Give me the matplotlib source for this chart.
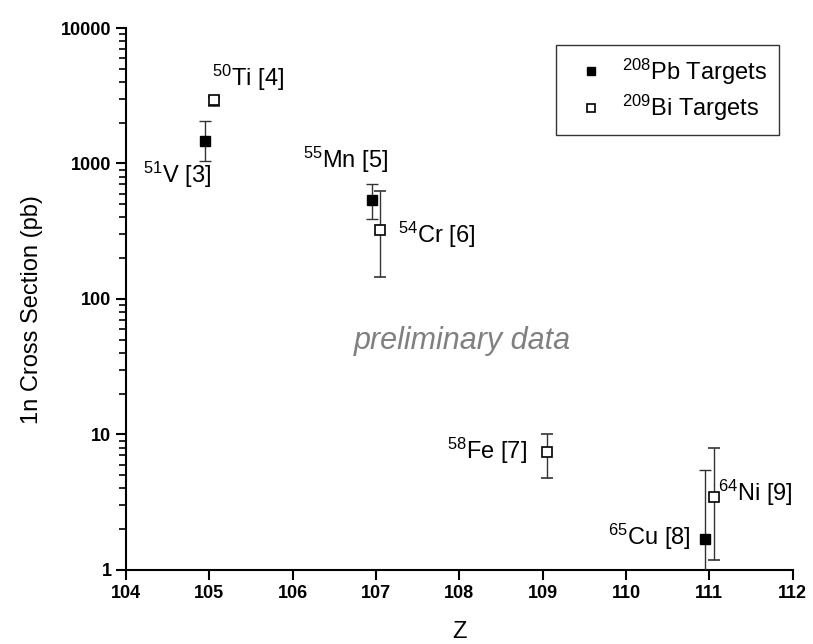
import matplotlib
matplotlib.use('Agg')
import matplotlib.pyplot as plt
from matplotlib.lines import Line2D
from matplotlib.ticker import FixedLocator, FuncFormatter, LogLocator, NullFormatter, NullLocator

plt.rcParams['font.family'] = ['Liberation Sans', 'DejaVu Sans']
plt.rcParams['mathtext.fontset'] = 'custom'
plt.rcParams['mathtext.rm'] = 'Liberation Sans'
plt.rcParams['mathtext.it'] = 'Liberation Sans:italic'
plt.rcParams['mathtext.bf'] = 'Liberation Sans:bold'

# 208Pb targets (filled squares)
pb_z = [104.95, 106.95, 110.95]
pb_cs = [1460, 535, 1.69]
pb_lo = [1045, 387, 0.5]
pb_hi = [2050, 711, 5.5]

# 209Bi targets (open squares)
bi_z = [105.05, 107.05, 109.05, 111.05]
bi_cs = [2930, 321, 7.45, 3.46]
bi_lo = [2650, 145, 4.76, 1.18]
bi_hi = [3120, 623, 10.07, 7.94]

# reaction labels: (text, x, y)
labels = [
    (r'$^{50}$Ti [4]', 105.03, 4300),
    (r'$^{51}$V [3]', 104.2, 820),
    (r'$^{55}$Mn [5]', 106.12, 1060),
    (r'$^{54}$Cr [6]', 107.26, 295),
    (r'$^{58}$Fe [7]', 107.85, 7.6),
    (r'$^{65}$Cu [8]', 109.78, 1.75),
    (r'$^{64}$Ni [9]', 111.1, 3.7),
]

fig = plt.figure(figsize=(8.13, 6.44), dpi=100)
ax = fig.add_axes([0.155, 0.115, 0.82, 0.8415])

def err(v, lo, hi):
    return [[a - b for a, b in zip(v, lo)], [c - a for a, c in zip(v, hi)]]

ax.errorbar(pb_z, pb_cs, yerr=err(pb_cs, pb_lo, pb_hi), fmt='s', ms=7,
            mfc='black', mec='black', ecolor='#333333', elinewidth=1,
            capsize=4, capthick=1, zorder=3)
ax.errorbar(bi_z, bi_cs, yerr=err(bi_cs, bi_lo, bi_hi), fmt='s', ms=7,
            mfc='white', mec='black', mew=1.2, ecolor='#333333', elinewidth=1,
            capsize=4, capthick=1, zorder=3)

for txt, x, y in labels:
    ax.text(x, y, txt, fontsize=17, ha='left', va='center')

ax.text(108.04, 49, 'preliminary data', fontsize=22, style='italic',
        color='#808080', ha='center', va='center')

ax.set_yscale('log')
ax.set_xlim(104, 112)
ax.set_ylim(1, 10000)

ax.spines['top'].set_visible(False)
ax.spines['right'].set_visible(False)
ax.spines['left'].set_linewidth(1.5)
ax.spines['bottom'].set_linewidth(1.5)

ax.xaxis.set_major_locator(FixedLocator(range(104, 113)))
ax.xaxis.set_minor_locator(NullLocator())
ax.yaxis.set_major_locator(FixedLocator([1, 10, 100, 1000, 10000]))
ax.yaxis.set_minor_locator(LogLocator(base=10, subs=range(2, 10)))
ax.yaxis.set_minor_formatter(NullFormatter())
ax.yaxis.set_major_formatter(FuncFormatter(lambda v, p: '%d' % v))

ax.tick_params(which='major', direction='out', length=7, width=1.5,
               labelsize=13)
ax.tick_params(which='minor', direction='out', length=5, width=1.2)
for lab in ax.get_xticklabels() + ax.get_yticklabels():
    lab.set_fontweight('bold')

ax.set_xlabel('Z', fontsize=17, labelpad=14)
ax.set_ylabel('1n Cross Section (pb)', fontsize=17)
ax.yaxis.set_label_coords(-0.125, 0.48)

handles = [
    Line2D([], [], ls='none', marker='s', ms=7, mfc='black', mec='black'),
    Line2D([], [], ls='none', marker='s', ms=7, mfc='white', mec='black', mew=1.2),
]
leg = ax.legend(handles, [r'$^{208}$Pb Targets', r'$^{209}$Bi Targets'],
                loc='upper right', bbox_to_anchor=(0.979, 0.969), fontsize=17,
                frameon=True, fancybox=False, edgecolor='black',
                handlelength=2.0, handletextpad=0.3, borderpad=0.5,
                labelspacing=0.25, borderaxespad=0, markerscale=0.85)
leg.get_frame().set_linewidth(1.0)

fig.savefig('out.png', dpi=100)
